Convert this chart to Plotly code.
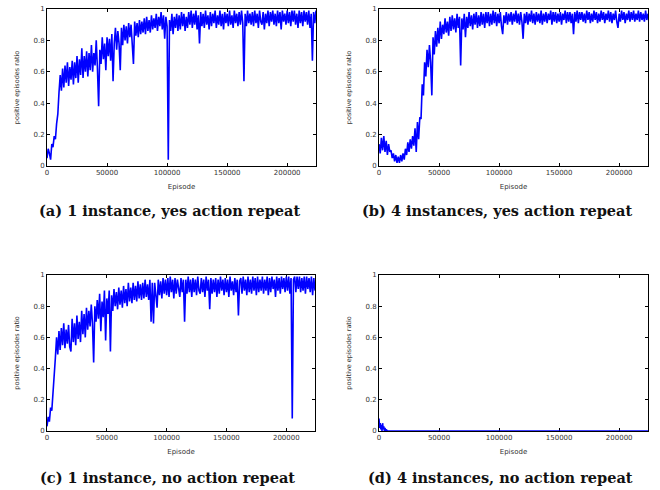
import plotly.graph_objects as go

# ---------------- data ----------------
episodes = list(range(0, 225000, 1000))

ratio_a = [
    0.05, 0.11, 0.08, 0.04, 0.14, 0.12, 0.19, 0.17, 0.27, 0.33,
    0.47, 0.58, 0.48, 0.62, 0.50, 0.64, 0.53, 0.66, 0.51, 0.63,
    0.55, 0.67, 0.52, 0.66, 0.56, 0.70, 0.53, 0.68, 0.58, 0.75,
    0.56, 0.70, 0.60, 0.73, 0.57, 0.72, 0.61, 0.77, 0.60, 0.72,
    0.64, 0.80, 0.62, 0.38, 0.74, 0.65, 0.82, 0.68, 0.78, 0.61,
    0.82, 0.70, 0.81, 0.67, 0.84, 0.54, 0.78, 0.88, 0.74, 0.86,
    0.78, 0.61, 0.88, 0.77, 0.90, 0.80, 0.89, 0.78, 0.91, 0.82,
    0.90, 0.80, 0.65, 0.92, 0.83, 0.91, 0.82, 0.93, 0.84, 0.92,
    0.85, 0.94, 0.84, 0.95, 0.86, 0.93, 0.85, 0.96, 0.87, 0.94,
    0.88, 0.97, 0.86, 0.95, 0.89, 0.98, 0.87, 0.96, 0.81, 0.95,
    0.89, 0.04, 0.93, 0.86, 0.97, 0.84, 0.95, 0.88, 0.97, 0.86,
    0.96, 0.87, 0.98, 0.89, 0.97, 0.86, 0.95, 0.88, 0.98, 0.90,
    0.99, 0.88, 0.97, 0.90, 0.99, 0.87, 0.96, 0.78, 0.98, 0.89,
    0.97, 0.88, 0.99, 0.90, 0.96, 0.87, 0.98, 0.89, 0.97, 0.91,
    0.99, 0.88, 0.96, 0.90, 0.99, 0.89, 0.97, 0.87, 0.98, 0.91,
    0.97, 0.89, 0.99, 0.90, 0.96, 0.88, 0.99, 0.91, 0.97, 0.89,
    0.98, 0.90, 0.99, 0.91, 0.54, 0.97, 0.89, 0.99, 0.91, 0.97,
    0.90, 0.98, 0.89, 0.99, 0.91, 0.97, 0.88, 0.99, 0.92, 0.90,
    0.98, 0.87, 0.97, 0.91, 0.99, 0.89, 0.98, 0.92, 0.99, 0.90,
    0.97, 0.89, 0.99, 0.91, 0.98, 0.87, 0.99, 0.92, 0.97, 0.90,
    0.99, 0.91, 0.98, 0.89, 0.99, 0.92, 0.99, 0.90, 0.97, 0.88,
    0.99, 0.91, 0.98, 0.89, 0.99, 0.92, 0.98, 0.90, 0.99, 0.88,
    0.97, 0.67, 0.98, 0.91, 0.99,
]

ratio_b = [
    0.14, 0.08, 0.18, 0.10, 0.19, 0.09, 0.16, 0.07, 0.14, 0.09,
    0.10, 0.05, 0.08, 0.03, 0.07, 0.02, 0.06, 0.02, 0.07, 0.03,
    0.08, 0.04, 0.11, 0.07, 0.15, 0.09, 0.17, 0.11, 0.19, 0.13,
    0.24, 0.09, 0.28, 0.17, 0.31, 0.30, 0.52, 0.45, 0.66, 0.57,
    0.74, 0.63, 0.77, 0.66, 0.45, 0.82, 0.71, 0.86, 0.76, 0.88,
    0.78, 0.92, 0.81, 0.90, 0.84, 0.94, 0.85, 0.92, 0.83, 0.95,
    0.86, 0.96, 0.87, 0.94, 0.85, 0.97, 0.88, 0.95, 0.64, 0.94,
    0.87, 0.97, 0.82, 0.95, 0.88, 0.98, 0.89, 0.96, 0.87, 0.97,
    0.90, 0.98, 0.88, 0.96, 0.89, 0.98, 0.90, 0.97, 0.88, 0.98,
    0.91, 0.98, 0.89, 0.97, 0.90, 0.99, 0.91, 0.98, 0.89, 0.97,
    0.91, 0.98, 0.89, 0.84, 0.96, 0.91, 0.98, 0.90, 0.97, 0.92,
    0.98, 0.90, 0.97, 0.92, 0.99, 0.91, 0.97, 0.90, 0.98, 0.92,
    0.81, 0.97, 0.91, 0.98, 0.90, 0.97, 0.92, 0.99, 0.91, 0.97,
    0.90, 0.98, 0.92, 0.97, 0.91, 0.99, 0.90, 0.97, 0.92, 0.98,
    0.91, 0.97, 0.93, 0.99, 0.90, 0.98, 0.92, 0.98, 0.91, 0.97,
    0.92, 0.98, 0.90, 0.97, 0.93, 0.99, 0.91, 0.98, 0.92, 0.98,
    0.91, 0.97, 0.84, 0.98, 0.92, 0.99, 0.91, 0.98, 0.93, 0.98,
    0.92, 0.97, 0.91, 0.99, 0.93, 0.98, 0.91, 0.97, 0.92, 0.99,
    0.93, 0.98, 0.91, 0.97, 0.92, 0.99, 0.93, 0.98, 0.91, 0.97,
    0.93, 0.99, 0.92, 0.98, 0.91, 0.97, 0.93, 0.99, 0.92, 0.88,
    0.97, 0.92, 0.99, 0.93, 0.98, 0.91, 0.97, 0.93, 0.99, 0.92,
    0.98, 0.93, 0.99, 0.92, 0.97, 0.93, 0.99, 0.92, 0.98, 0.93,
    0.97, 0.92, 0.99, 0.93, 0.97,
]

ratio_c = [
    0.03, 0.09, 0.06, 0.15, 0.13, 0.27, 0.36, 0.47, 0.60, 0.49,
    0.64, 0.52, 0.66, 0.55, 0.69, 0.53, 0.65, 0.56, 0.68, 0.54,
    0.51, 0.72, 0.57, 0.69, 0.55, 0.74, 0.59, 0.70, 0.57, 0.77,
    0.62, 0.75, 0.60, 0.79, 0.65, 0.77, 0.67, 0.81, 0.69, 0.44,
    0.80, 0.70, 0.84, 0.72, 0.88, 0.64, 0.83, 0.73, 0.90, 0.58,
    0.85, 0.75, 0.90, 0.51, 0.87, 0.77, 0.91, 0.80, 0.89, 0.78,
    0.92, 0.81, 0.90, 0.79, 0.93, 0.82, 0.91, 0.80, 0.95, 0.83,
    0.92, 0.82, 0.95, 0.84, 0.93, 0.83, 0.96, 0.85, 0.94, 0.84,
    0.95, 0.85, 0.97, 0.86, 0.94, 0.84, 0.97, 0.70, 0.95, 0.69,
    0.95, 0.86, 0.79, 0.97, 0.87, 0.96, 0.85, 0.98, 0.88, 0.97,
    0.87, 0.98, 0.86, 0.99, 0.89, 0.97, 0.85, 0.98, 0.88, 0.97,
    0.90, 0.86, 0.98, 0.89, 0.97, 0.70, 0.97, 0.88, 0.99, 0.89,
    0.97, 0.86, 0.98, 0.89, 0.97, 0.87, 0.99, 0.90, 0.88, 0.98,
    0.89, 0.97, 0.86, 0.99, 0.90, 0.97, 0.78, 0.98, 0.88, 0.97,
    0.89, 0.98, 0.86, 0.97, 0.88, 0.99, 0.90, 0.97, 0.87, 0.98,
    0.89, 0.97, 0.86, 0.99, 0.90, 0.96, 0.87, 0.98, 0.89, 0.97,
    0.74, 0.96, 0.98, 0.88, 0.99, 0.90, 0.97, 0.87, 0.99, 0.89,
    0.97, 0.88, 0.99, 0.90, 0.98, 0.87, 0.99, 0.89, 0.97, 0.90,
    0.99, 0.88, 0.97, 0.90, 0.99, 0.87, 0.98, 0.89, 0.99, 0.91,
    0.97, 0.86, 0.99, 0.90, 0.98, 0.88, 0.99, 0.91, 0.98, 0.89,
    0.99, 0.90, 0.99, 0.88, 0.98, 0.08, 0.97, 0.99, 0.89, 0.99,
    0.91, 0.99, 0.89, 0.98, 0.90, 0.99, 0.88, 0.99, 0.91, 0.98,
    0.89, 0.99, 0.87, 0.98, 0.90,
]

episodes_d = [0, 500, 1000, 1500, 2000, 2500, 3000, 3500, 4000, 4500,
              5000, 5500, 6000, 6500, 7000, 224000]
ratio_d = [0.08, 0.02, 0.05, 0.01, 0.04, 0.00, 0.05, 0.01, 0.03, 0.00,
           0.02, 0.00, 0.01, 0.00, 0.00, 0.00]

captions = [
    "(a) 1 instance, yes action repeat",
    "(b) 4 instances, yes action repeat",
    "(c) 1 instance, no action repeat",
    "(d) 4 instances, no action repeat",
]

x_ticks = [0, 50000, 100000, 150000, 200000]
y_ticks = [0, 0.2, 0.4, 0.6, 0.8, 1]
y_tick_text = ["0", "0.2", "0.4", "0.6", "0.8", "1"]

# ---------------- figure ----------------
W, H = 660, 490
panels = [
    (episodes, ratio_a, (47, 316), (9, 166)),
    (episodes, ratio_b, (379, 648), (9, 166)),
    (episodes, ratio_c, (47, 315), (275, 431)),
    (episodes_d, ratio_d, (379, 648), (275, 431)),
]
cap_pos = [(169, 210), (497, 210), (168, 477), (500, 477)]


def px(v):
    return v / W


def py(v):
    return 1 - v / H


fig = go.Figure()
tick_font = dict(family="DejaVu Sans", size=7, color="#333333")
title_font = dict(family="DejaVu Sans", size=7, color="#333333")

for i, (xs, ys, (x0, x1), (y0, y1)) in enumerate(panels):
    n = "" if i == 0 else str(i + 1)
    fig.add_trace(go.Scatter(
        x=xs, y=ys, mode="lines",
        line=dict(color="#0000ff", width=1.6),
        xaxis="x" + n, yaxis="y" + n, showlegend=False, hoverinfo="skip",
    ))
    common = dict(
        showline=True, linecolor="black", linewidth=1, mirror="allticks",
        ticks="inside", ticklen=3, tickcolor="black", tickwidth=1,
        showgrid=False, zeroline=False, layer="below traces",
        tickfont=tick_font, automargin=False, ticklabeloverflow="allow",
    )
    fig.update_layout(**{
        "xaxis" + n: dict(
            domain=[px(x0), px(x1)], anchor="y" + n, range=[0, 224000],
            tickvals=x_ticks, ticktext=[str(v) for v in x_ticks],
            title=dict(text="Episode", font=title_font, standoff=7),
            **common,
        ),
        "yaxis" + n: dict(
            domain=[py(y1), py(y0)], anchor="x" + n, range=[0, 1],
            tickvals=y_ticks, ticktext=y_tick_text,
            title=dict(text="positive episodes ratio",
                       font=dict(family="DejaVu Sans", size=6.5, color="#333333"),
                       standoff=13),
            **common,
        ),
    })

for text, (cx, cy) in zip(captions, cap_pos):
    fig.add_annotation(
        text=text, x=px(cx), y=py(cy), xref="paper", yref="paper",
        showarrow=False, xanchor="center", yanchor="middle",
        font=dict(family="DejaVu Serif", size=14.5, color="#111111",
                  weight="bold"),
    )

fig.update_layout(
    width=W, height=H, margin=dict(l=0, r=0, t=0, b=0),
    paper_bgcolor="white", plot_bgcolor="white",
)

# remove the default 8px page margin so the figure sits at the window origin
fig.write_html("out.html",
               config={"displayModeBar": False},
               post_script="document.body.style.margin='0';"
                           "document.body.style.overflow='hidden';")
